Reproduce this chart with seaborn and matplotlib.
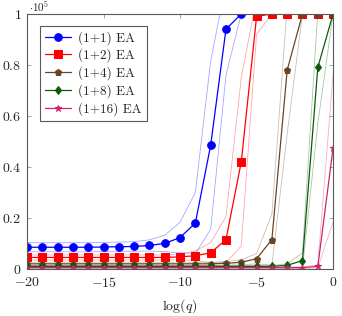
import matplotlib
matplotlib.use("Agg")
import matplotlib.pyplot as plt
import numpy as np
import pandas as pd
import seaborn as sns

# valores (média e desvio por série)
log_q = list(range(-20, 1))

media_1 = [0.085] * 5 + [0.086, 0.087, 0.088, 0.092, 0.100, 0.123, 0.180, 0.485, 0.940] + [1.0] * 7
desvio_1 = [0.018] * 7 + [0.019, 0.022, 0.032, 0.06, 0.12, 0.33, 0.18] + [0.0] * 7

media_2 = [0.045] * 10 + [0.047, 0.052, 0.063, 0.115, 0.42, 0.99] + [1.0] * 5
desvio_2 = [0.01] * 10 + [0.012, 0.018, 0.04, 0.09, 0.33, 0.07] + [0.0] * 5

media_4 = [0.02] * 12 + [0.02, 0.022, 0.026, 0.04, 0.115, 0.78] + [1.0] * 3
desvio_4 = [0.006] * 12 + [0.006, 0.007, 0.01, 0.02, 0.1, 0.25] + [0.0] * 3

media_8 = [0.01] * 17 + [0.014, 0.033, 0.79, 1.0]
desvio_8 = [0.004] * 17 + [0.006, 0.03, 0.22, 0.0]

media_16 = [0.005] * 19 + [0.01, 0.475]
desvio_16 = [0.003] * 19 + [0.006, 0.29]

rotulos = ["(1+1) EA", "(1+2) EA", "(1+4) EA", "(1+8) EA", "(1+16) EA"]
medias = [media_1, media_2, media_4, media_8, media_16]
desvios = [desvio_1, desvio_2, desvio_4, desvio_8, desvio_16]

cores = ["#0000ff", "#ff0000", "#6b4423", "#0a5c0a", "#d4226a"]
marcadores = ["o", "s", "p", "d", "*"]
tamanhos = [5.5, 6, 5, 4.5, 5]

sns.set_style("ticks")
plt.rcParams["font.family"] = "serif"
plt.rcParams["font.serif"] = ["cmr10"]
plt.rcParams["mathtext.fontset"] = "cm"
plt.rcParams["axes.formatter.use_mathtext"] = True
plt.rcParams["axes.unicode_minus"] = True

fig = plt.figure(figsize=(3.42, 3.16), dpi=100)
ax = fig.add_axes([0.079, 0.149, 0.895, 0.807])

for rot, m, d, cor, mk, ms in zip(rotulos, medias, desvios, cores, marcadores, tamanhos):
    df = pd.DataFrame({"x": log_q, "m": m, "d": d})
    df["sup"] = df["m"] + df["d"]
    df["inf"] = df["m"] - df["d"]
    sns.lineplot(data=df, x="x", y="sup", color=cor, alpha=0.35, lw=0.6, ax=ax, legend=False)
    sns.lineplot(data=df, x="x", y="inf", color=cor, alpha=0.35, lw=0.6, ax=ax, legend=False)
    sns.lineplot(data=df, x="x", y="m", color=cor, marker=mk, markersize=ms,
                 markeredgecolor=cor, lw=0.9, ax=ax, label=rot)

ax.set_xlim(-20, 0)
ax.set_ylim(0, 1)
ax.set_xticks([-20, -15, -10, -5, 0])
ax.set_xticklabels([r"$-20$", r"$-15$", r"$-10$", r"$-5$", r"$0$"])
ax.set_yticks([0, 0.2, 0.4, 0.6, 0.8, 1])
ax.set_yticklabels([r"$0$", r"$0.2$", r"$0.4$", r"$0.6$", r"$0.8$", r"$1$"])
ax.tick_params(direction="in", length=3, width=0.5, color="0.5", labelsize=10,
               top=True, right=True, pad=4)
ax.tick_params(axis="x", pad=5)
for s in ax.spines.values():
    s.set_color("0.35")
    s.set_linewidth(0.8)

ax.set_xlabel(r"$\log(q)$", fontsize=10, labelpad=5)
ax.set_ylabel("")
ax.text(0.005, 1.0, r"$\cdot 10^5$", transform=ax.transAxes, fontsize=8,
        ha="left", va="bottom")

leg = ax.legend(loc="upper left", fontsize=9.5, handlelength=2.0,
                labelspacing=0.3, borderpad=0.4, handletextpad=0.5,
                fancybox=False, framealpha=1, bbox_to_anchor=(0.02, 0.98))
leg.get_frame().set_edgecolor("0.35")
leg.get_frame().set_linewidth(0.8)

fig.savefig("out.png", dpi=100)
